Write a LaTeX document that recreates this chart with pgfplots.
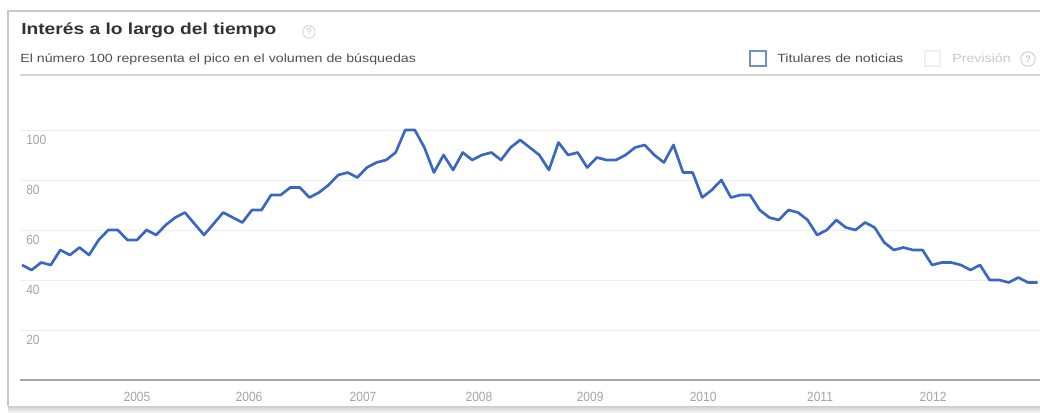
\documentclass[border=0pt]{standalone}
\usepackage{pgfplots}
\pgfplotsset{compat=1.18}
\usepackage{fontspec}
\setmainfont{Liberation Sans}
\newfontfamily\headfont{Liberation Sans}[FakeStretch=1.2]
\newfontfamily\tickfont{Liberation Sans}[FakeStretch=0.9]
\definecolor{trendblue}{RGB}{58,104,192}
\definecolor{titlegray}{RGB}{51,51,51}
\definecolor{subgray}{RGB}{80,80,80}
\definecolor{tickgray}{RGB}{165,165,165}
\definecolor{gridgray}{RGB}{238,238,238}
\definecolor{framegray}{RGB}{200,200,200}
\definecolor{sepgray}{RGB}{215,215,215}
\definecolor{axisgray}{RGB}{165,165,165}
\definecolor{boxblue}{RGB}{110,145,205}
\definecolor{faintgray}{RGB}{200,200,200}
\begin{document}
\begin{tikzpicture}[x=0.75pt,y=0.75pt]
\path[use as bounding box] (0,0) rectangle (1040,412);
\fill[white] (0,0) rectangle (1040,412);
% frame
\shade[top color=gray!40, bottom color=gray!10] (8,0) rectangle (1040,6);
\draw[framegray, line width=0.9pt] (8,6) -- (8,401) -- (1040,401);
% header
\node[anchor=base west, inner sep=0pt, text=titlegray, font=\headfont\bfseries\fontsize{12pt}{14pt}\selectfont] at (21,378) {Interés a lo largo del tiempo};
\draw[gray!35, line width=0.7pt] (309,380) circle [radius=4.6pt];
\node[inner sep=0pt, text=gray!60, font=\fontsize{6pt}{7pt}\selectfont] at (309,380) {?};
\node[anchor=base west, inner sep=0pt, text=subgray, font=\headfont\fontsize{8.9pt}{10pt}\selectfont] at (20,350) {El número 100 representa el pico en el volumen de búsquedas};
\draw[boxblue, line width=0.9pt] (750,346) rectangle (766,361);
\node[anchor=base west, inner sep=0pt, text=subgray, font=\headfont\fontsize{8.9pt}{10pt}\selectfont] at (777,350) {Titulares de noticias};
\draw[gray!12, line width=0.9pt] (925,346) rectangle (940,361);
\node[anchor=base west, inner sep=0pt, text=faintgray, font=\headfont\fontsize{8.9pt}{10pt}\selectfont] at (952,350) {Previsión};
\draw[gray!40, line width=0.7pt] (1028,353) circle [radius=5.4pt];
\node[inner sep=0pt, text=gray!60, font=\fontsize{7pt}{8pt}\selectfont] at (1028,353) {?};
\draw[sepgray, line width=1.1pt] (20,337) -- (1040,337);
% chart
\begin{axis}[at={(15pt,24pt)}, anchor=south west, scale only axis,
  width=765pt, height=225pt,
  xmin=-0.21, xmax=106.26, ymin=0, ymax=120,
  axis line style={draw=none}, major tick length=0pt,
  ymajorgrids, grid style={gridgray, line width=0.75pt},
  ytick={20,40,60,80,100}, yticklabels={20,40,60,80,100},
  xtick={12,23.7,35.6,47.7,59.3,71.1,83.3,95.1},
  xticklabels={2005,2006,2007,2008,2009,2010,2011,2012},
  /pgf/number format/assume math mode=true,
  yticklabel style={anchor=north west, inner sep=0pt, xshift=4.5pt, yshift=-3.75pt, text=tickgray, font=\tickfont\fontsize{10pt}{12pt}\selectfont},
  xticklabel style={anchor=north, inner sep=0pt, yshift=-9pt, text=tickgray, font=\tickfont\fontsize{10pt}{12pt}\selectfont},
  clip=false]
\addplot[trendblue, line width=2pt, line join=round] coordinates {
(0,46)(1,44)(2,47)(3,46)(4,52)(5,50)(6,53)(7,50)(8,56)(9,60)
(10,60)(11,56)(12,56)(13,60)(14,58)(15,62)(16,65)(17,67)(18,62.5)(19,58)
(20,62.5)(21,67)(22,65)(23,63)(24,68)(25,68)(26,74)(27,74)(28,77)(29,77)
(30,73)(31,75)(32,78)(33,82)(34,83)(35,81)(36,85)(37,87)(38,88)(39,91)
(40,100)(41,100)(42,93)(43,83)(44,90)(45,84)(46,91)(47,88)(48,90)(49,91)
(50,88)(51,93)(52,96)(53,93)(54,90)(55,84)(56,95)(57,90)(58,91)(59,85)
(60,89)(61,88)(62,88)(63,90)(64,93)(65,94)(66,90)(67,87)(68,94)(69,83)
(70,83)(71,73)(72,76)(73,80)(74,73)(75,74)(76,74)(77,68)(78,65)(79,64)
(80,68)(81,67)(82,64)(83,58)(84,60)(85,64)(86,61)(87,60)(88,63)(89,61)
(90,55)(91,52)(92,53)(93,52)(94,52)(95,46)(96,47)(97,47)(98,46)(99,44)
(100,46)(101,40)(102,40)(103,39)(104,41)(105,39)(106,39)
};
\end{axis}
\draw[axisgray, line width=1.1pt] (20,32) -- (1040,32);
\end{tikzpicture}
\end{document}
